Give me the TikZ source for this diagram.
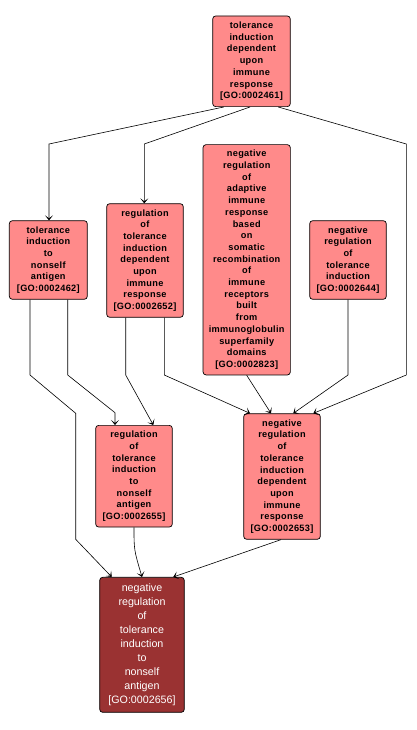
\documentclass[tikz,border=0pt]{standalone}
\usepackage{fontspec}
\setmainfont{Liberation Sans}
\newfontfamily\termfont[LetterSpace=3.5]{Liberation Sans}
\usetikzlibrary{arrows.meta}
\definecolor{pinkfill}{HTML}{FF8A8A}
\definecolor{darkfill}{HTML}{9A3232}
\begin{document}
\begin{tikzpicture}[x=1pt,y=-1pt,
  term/.style={draw=black, line width=0.7pt, rounded corners=3pt, fill=pinkfill, inner sep=0pt, align=center,
    font=\termfont\fontsize{9.2}{11.7}\selectfont\bfseries},
  focus/.style={draw=black, line width=0.7pt, rounded corners=3pt, fill=darkfill, inner sep=0pt, align=center,
    text=white, font=\fontsize{10.7}{14}\selectfont},
  edge/.style={draw=black, line width=0.6pt, -{Stealth[length=5pt,width=8pt,inset=3pt]}}]
\useasboundingbox (0,0) rectangle (416,730);
\fill[white] (0,0) rectangle (416,730);

\node[term, minimum width=77.6pt, minimum height=90.7pt] (A) at (251.5,61.3)
  {tolerance\\induction\\dependent\\upon\\immune\\response\\{[GO:0002461]}};
\node[term, minimum width=78pt, minimum height=78.6pt] (B) at (48.3,260)
  {tolerance\\induction\\to\\nonself\\antigen\\{[GO:0002462]}};
\node[term, minimum width=76.6pt, minimum height=113.6pt] (C) at (145,260.5)
  {regulation\\of\\tolerance\\induction\\dependent\\upon\\immune\\response\\{[GO:0002652]}};
\node[term, minimum width=87.3pt, minimum height=230.3pt] (D) at (246.7,259.8)
  {negative\\regulation\\of\\adaptive\\immune\\response\\based\\on\\somatic\\recombination\\of\\immune\\receptors\\built\\from\\immunoglobulin\\superfamily\\domains\\{[GO:0002823]}};
\node[term, minimum width=76.6pt, minimum height=78.6pt] (E) at (348,260)
  {negative\\regulation\\of\\tolerance\\induction\\{[GO:0002644]}};
\node[term, minimum width=76.6pt, minimum height=101.7pt] (F) at (134,476.2)
  {regulation\\of\\tolerance\\induction\\to\\nonself\\antigen\\{[GO:0002655]}};
\node[term, minimum width=76.6pt, minimum height=125.6pt] (G) at (282,476.5)
  {negative\\regulation\\of\\tolerance\\induction\\dependent\\upon\\immune\\response\\{[GO:0002653]}};
\node[focus, minimum width=84.6pt, minimum height=135pt] (H) at (142,644.8)
  {negative\\regulation\\of\\tolerance\\induction\\to\\nonself\\antigen\\{[GO:0002656]}};

% bend points
\coordinate (ab) at (49,144);
\coordinate (ac) at (144.3,144);
\coordinate (ag1) at (406.3,144);
\coordinate (ag2) at (406.3,375);
\coordinate (eg) at (348,375);
\coordinate (cg) at (164.3,375);
\coordinate (cf) at (125.7,375);
\coordinate (bf1) at (67.7,375);
\coordinate (bf2) at (115,412.7);
\coordinate (bh1) at (30,375);
\coordinate (bh2) at (75.7,413.3);
\coordinate (bh3) at (75.7,539.3);

\draw[edge] ([xshift=-27.8]A.south) -- (ab) -- (ab |- B.north);
\draw[edge] ([xshift=-1.5]A.south) -- (ac) -- (ac |- C.north);
\draw[edge] ([xshift=26.8]A.south) -- (ag1) -- (ag2) -- ([xshift=31.3]G.north);
\draw[edge] (E.south) -- (eg) -- ([xshift=11.3]G.north);
\draw[edge] (D.south) -- ([xshift=-11]G.north);
\draw[edge] (cg |- C.south) -- (cg) -- ([xshift=-32]G.north);
\draw[edge] (cf |- C.south) -- (cf) -- ([xshift=19.3]F.north);
\draw[edge] (bf1 |- B.south) -- (bf1) -- (bf2) -- (bf2 |- F.north);
\draw[edge] (bh1 |- B.south) -- (bh1) -- (bh2) -- (bh3) -- ([xshift=-30.3]H.north);
\draw[edge] (F.south) .. controls (134,550) .. (H.north);
\draw[edge] ([xshift=-1]G.south) -- ([xshift=31.3]H.north);
\end{tikzpicture}
\end{document}
